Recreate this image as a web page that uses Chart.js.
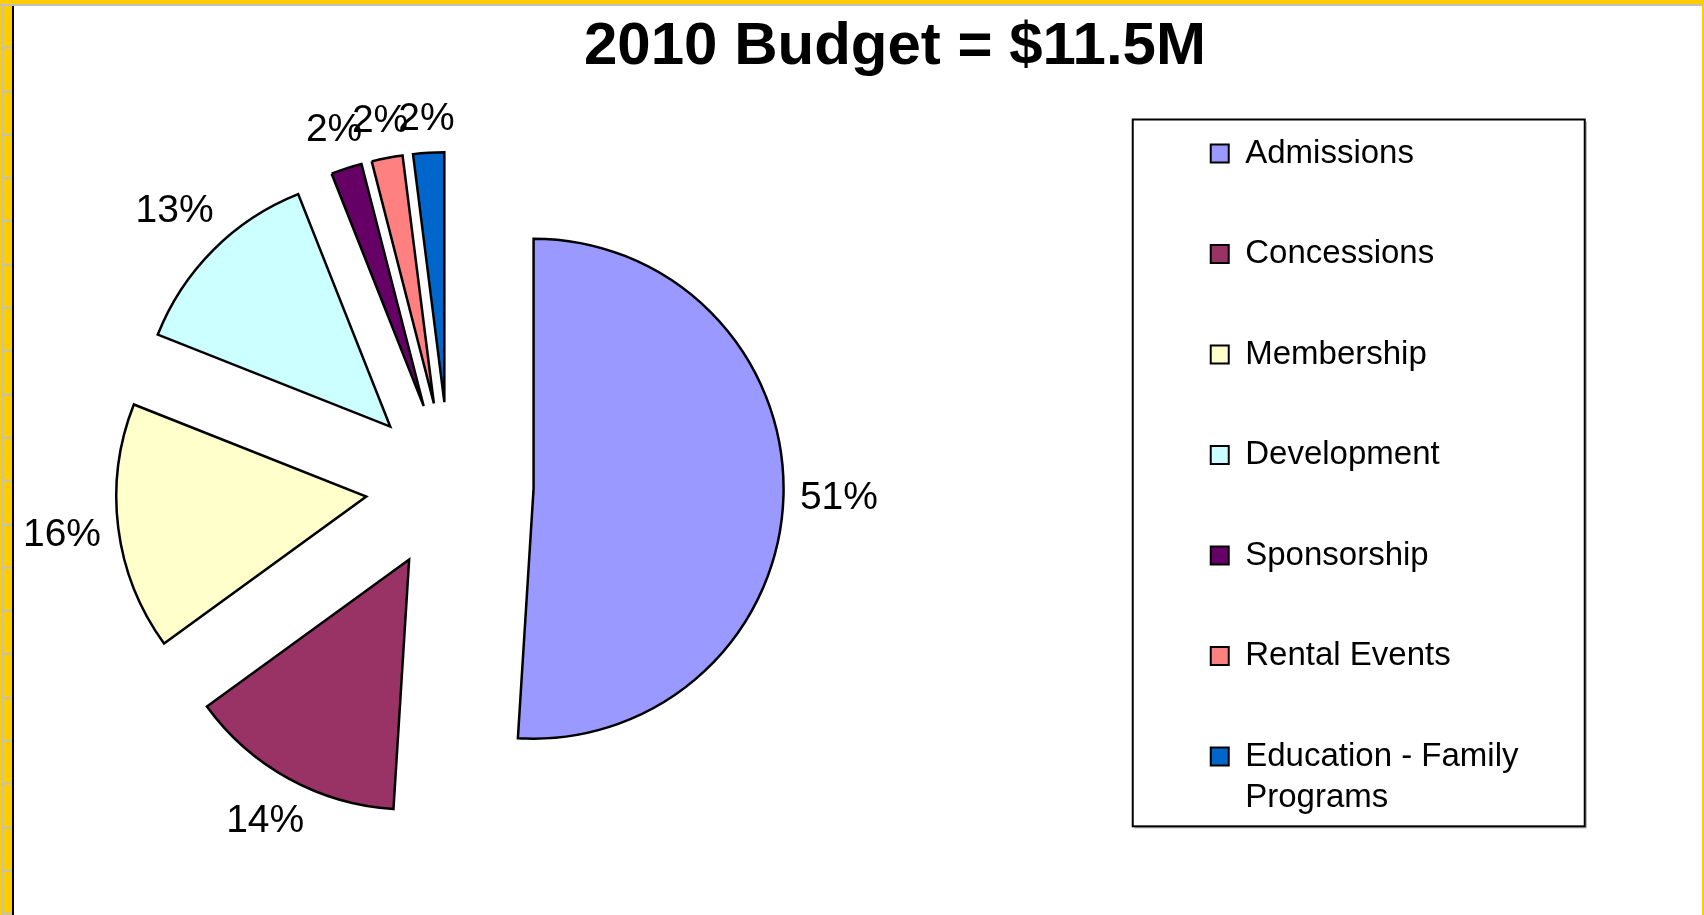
<!DOCTYPE html>
<html>
<head>
<meta charset="utf-8">
<title>2010 Budget</title>
<script src="https://cdn.jsdelivr.net/npm/chart.js@4.4.1/dist/chart.umd.min.js"></script>
<style>
  html, body { margin: 0; padding: 0; }
  body {
    width: 1704px; height: 915px; overflow: hidden; position: relative;
    background: #fff; font-family: 'Liberation Sans', Arial, sans-serif;
  }
  /* window frame */
  #frameTop { position: absolute; left: 0; top: 0; width: 1704px; height: 4px; background: #ffcc00; border-bottom: 2px solid #c0c0c0; z-index: 3; }
  #frameLeft {
    position: absolute; left: 0; top: 0; width: 12px; height: 915px; z-index: 2;
    background: repeating-linear-gradient(to bottom, #ffcc00 0px, #ffcc00 41.3px, #c0c0c0 41.3px, #c0c0c0 43.3px);
    background-position: 0 5.7px;
    border-right: 2px solid #000;
  }
  #frameLeft::before { content: ''; position: absolute; left: 0; top: 0; width: 2px; height: 100%; background: #ffcc00; border-right: 1px solid #c0c0c0; }
  #frameRight { position: absolute; left: 1702px; top: 0; width: 2px; height: 915px; background: #ffcc00; z-index: 3; }
  #title {
    position: absolute; left: 0; top: 14px; width: 1790px; text-align: center;
    font: bold 60px/60px 'Liberation Sans', Arial, sans-serif; color: #000; z-index: 1;
  }
  #chartBox { position: absolute; left: -244px; top: 0; width: 1948px; height: 915px; }
</style>
</head>
<body>
<div id="frameTop"></div>
<div id="frameLeft"></div>
<div id="frameRight"></div>
<div id="title">2010 Budget = $11.5M</div>
<div id="chartBox"><canvas id="budgetChart" width="1948" height="915"></canvas></div>

<script>
// budget split, in percent of the total
const categories = ['Admissions', 'Concessions', 'Membership', 'Development', 'Sponsorship', 'Rental Events', 'Education - Family Programs'];
const shares = [51, 14, 16, 13, 2, 2, 2];
const sliceColors = ['#9999ff', '#993366', '#ffffcc', '#ccffff', '#660066', '#ff8080', '#0066cc'];

const fontFamily = "'Liberation Sans', Arial, sans-serif";

// long legend names go on two lines
function wrapLabel(label) {
    if (label.length <= 20) return label;
    const cut = label.lastIndexOf(' ');
    return [label.slice(0, cut), label.slice(cut + 1)];
}

// every slice pulled out from the centre along its middle angle
const explodedSlices = {
    id: 'explodedSlices',
    beforeDatasetDraw(chart, args, opts) {
        const ctx = chart.ctx;
        args.meta.data.forEach((arc) => {
            const mid = (arc.startAngle + arc.endAngle) / 2;
            ctx.save();
            ctx.translate(Math.cos(mid) * opts.distance, Math.sin(mid) * opts.distance);
            arc.draw(ctx);
            ctx.restore();
        });
        return false;
    }
};

// "51%" style labels just outside each slice
const percentLabels = {
    id: 'percentLabels',
    afterDatasetsDraw(chart, args, opts) {
        const ctx = chart.ctx;
        const meta = chart.getDatasetMeta(0);
        const values = chart.data.datasets[0].data;
        const total = values.reduce((sum, v) => sum + v, 0);
        ctx.save();
        ctx.font = opts.size + 'px ' + fontFamily;
        ctx.fillStyle = '#000';
        ctx.textAlign = 'center';
        ctx.textBaseline = 'middle';
        meta.data.forEach((arc, i) => {
            const mid = (arc.startAngle + arc.endAngle) / 2;
            const text = Math.round(values[i] / total * 100) + '%';
            const halfW = ctx.measureText(text).width / 2;
            const dx = Math.cos(mid), dy = Math.sin(mid);
            const r = arc.outerRadius + opts.explode + opts.gap + halfW * Math.abs(dx) + opts.halfHeight * Math.abs(dy);
            ctx.fillText(text, arc.x + dx * r, arc.y + dy * r);
        });
        ctx.restore();
    }
};

// box around the legend entries
const legendFrame = {
    id: 'legendFrame',
    afterDraw(chart, args, opts) {
        const boxes = chart.legend.legendHitBoxes;
        if (!boxes || !boxes.length) return;
        const itemsLeft = Math.min(...boxes.map(b => b.left));
        const left = itemsLeft - opts.left;
        const top = Math.min(...boxes.map(b => b.top)) - opts.top;
        const right = itemsLeft + opts.right;
        const bottom = Math.max(...boxes.map(b => b.top + b.height)) + opts.bottom;
        const ctx = chart.ctx;
        ctx.save();
        ctx.strokeStyle = '#a0a0a0';
        ctx.lineWidth = 1;
        ctx.beginPath();
        ctx.moveTo(right + 1.5, top + 2);
        ctx.lineTo(right + 1.5, bottom + 1.5);
        ctx.lineTo(left + 2, bottom + 1.5);
        ctx.stroke();
        ctx.strokeStyle = '#000';
        ctx.lineWidth = 2;
        ctx.strokeRect(left, top, right - left, bottom - top);
        ctx.restore();
    }
};

const data = {
    labels: categories,
    datasets: [{
        data: shares,
        backgroundColor: sliceColors,
        borderColor: '#000',
        borderWidth: 2.5,
        borderJoinStyle: 'miter',
        radius: 250
    }]
};

const config = {
    type: 'pie',
    data,
    options: {
        responsive: false,
        animation: false,
        events: [],
        layout: {
            padding: { left: 0, right: 175.5, top: 69.5, bottom: 12.5 }
        },
        plugins: {
            title: { display: false },
            tooltip: { enabled: false },
            legend: {
                position: 'right',
                align: 'start',
                fullSize: false,
                labels: {
                    boxWidth: 18,
                    boxHeight: 18,
                    padding: 67.5,
                    color: '#000',
                    font: { family: fontFamily, size: 33, lineHeight: 1.24 },
                    generateLabels(chart) {
                        const ds = chart.data.datasets[0];
                        return chart.data.labels.map((label, i) => ({
                            text: wrapLabel(label),
                            fillStyle: ds.backgroundColor[i],
                            strokeStyle: '#000',
                            lineWidth: 2,
                            fontColor: '#000',
                            hidden: false,
                            index: i
                        }));
                    }
                }
            },
            explodedSlices: { distance: 84 },
            percentLabels: { size: 39, explode: 84, gap: 16, halfHeight: 16 },
            legendFrame: { left: 78, top: 17.5, right: 374, bottom: 4.5 }
        }
    },
    plugins: [explodedSlices, percentLabels, legendFrame]
};

const budgetChart = new Chart(document.getElementById('budgetChart'), config);
</script>
</body>
</html>
